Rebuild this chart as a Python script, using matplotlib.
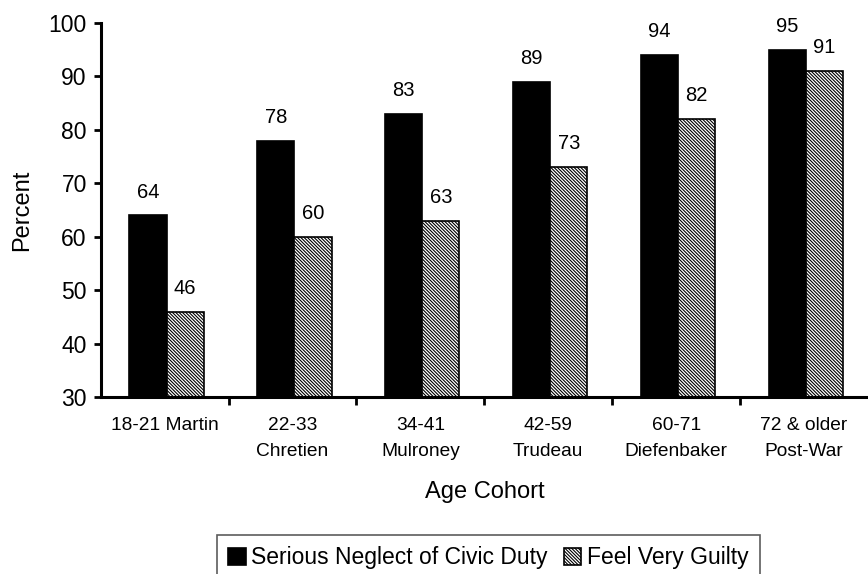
import matplotlib
matplotlib.use("Agg")
import matplotlib.pyplot as plt
import numpy as np

plt.rcParams['font.family'] = ['Liberation Sans', 'DejaVu Sans']
plt.rcParams['hatch.linewidth'] = 0.8

categories = ["18-21 Martin", "22-33\nChretien", "34-41\nMulroney",
              "42-59\nTrudeau", "60-71\nDiefenbaker", "72 & older\nPost-War"]
neglect = [64, 78, 83, 89, 94, 95]
guilty = [46, 60, 63, 73, 82, 91]
series_names = ["Serious Neglect of Civic Duty", "Feel Very Guilty"]
yticks = [30, 40, 50, 60, 70, 80, 90, 100]

fig = plt.figure(figsize=(8.68, 5.74), dpi=100)
ax = fig.add_axes([0.116, 0.308, 0.884, 0.652])

x = np.arange(len(categories))
w = 0.29
b1 = ax.bar(x - 0.13, neglect, w, bottom=0, color="black", edgecolor="black",
            linewidth=1.2, label=series_names[0])
b2 = ax.bar(x + 0.16, guilty, w, bottom=0, color="white", edgecolor="black",
            hatch="\\" * 10, linewidth=1.2, label=series_names[1])

for bars, vals in ((b1, neglect), (b2, guilty)):
    for r, v in zip(bars, vals):
        ax.annotate(f"{v}", (r.get_x() + r.get_width() / 2, v),
                    xytext=(0, 10), textcoords="offset points",
                    ha="center", va="bottom", fontsize=14.5)

ax.set_ylim(30, 100)
ax.set_xlim(-0.5, 5.5)
ax.set_yticks(yticks)
ax.tick_params(axis="y", labelsize=16.5, width=2, length=5, direction="out", pad=5)
ax.set_xticks(x)
ax.set_xticklabels(categories, fontsize=13.8, linespacing=1.75)
ax.set_xticks(np.arange(0.5, 5.5, 1.0), minor=True)
ax.tick_params(axis="x", which="major", length=0, pad=14)
ax.tick_params(axis="x", which="minor", length=6, width=2, direction="out")

for s in ("top", "right"):
    ax.spines[s].set_visible(False)
for s in ("left", "bottom"):
    ax.spines[s].set_linewidth(2.2)

ax.set_ylabel("Percent", fontsize=17, labelpad=11)
ax.set_xlabel("Age Cohort", fontsize=17, labelpad=15)

leg = fig.legend(handles=[b1, b2], loc="upper left",
                 bbox_to_anchor=(217 / 868, 1 - 535 / 574), ncol=2,
                 fontsize=16.5, frameon=True, fancybox=False,
                 handlelength=0.75, handleheight=0.75, handletextpad=0.25,
                 columnspacing=0.7, borderpad=0.5, borderaxespad=0)
leg.get_frame().set_edgecolor("#333333")
leg.get_frame().set_linewidth(1.2)

fig.savefig("out.png", dpi=100)
